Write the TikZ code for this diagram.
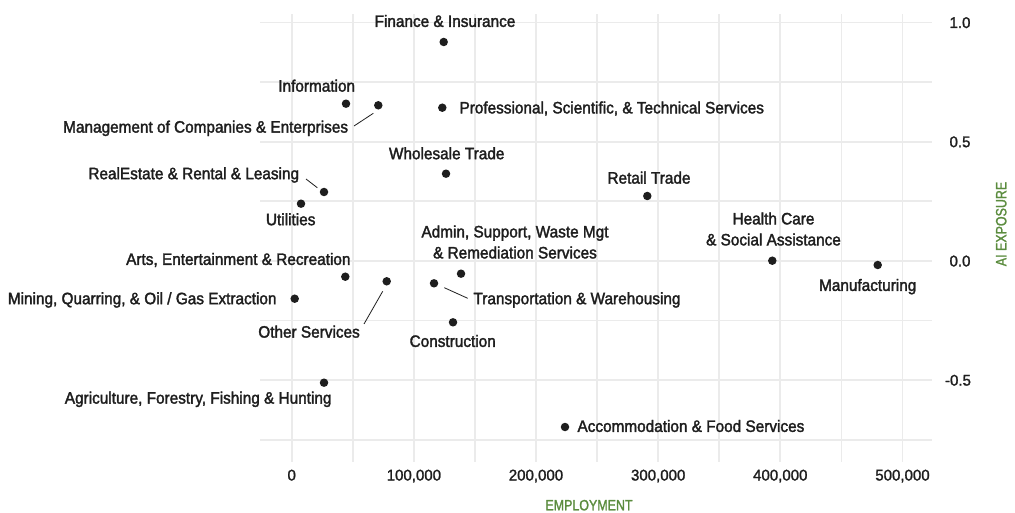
\documentclass[tikz,border=0pt]{standalone}
\usepackage{fontspec}
\setmainfont{Liberation Sans}
\newfontfamily\labfont{Liberation Sans}[FakeStretch=0.93,FakeBold=2]
\newfontfamily\tickfont{Liberation Sans}[FakeStretch=0.97,FakeBold=1.5]
\newfontfamily\titfont{Liberation Sans}[FakeStretch=0.83,FakeBold=1.5]
\definecolor{gridc}{HTML}{EBEBEB}
\definecolor{inkc}{HTML}{1E1E1E}
\definecolor{axgreen}{HTML}{5B8C3E}
\tikzset{
  lab/.style={inner sep=0pt, text=inkc, font=\labfont\fontsize{16.5}{21}\selectfont, text height=11.8pt, text depth=0pt},
  lab2/.style={inner sep=0pt, text=inkc, font=\labfont\fontsize{16.5}{21}\selectfont, align=center},
  dotp/.style={circle, fill=inkc, inner sep=0pt, minimum size=8.5pt},
  gridline/.style={draw=gridc, line width=1.8pt},
  leader/.style={draw=inkc, line width=0.8pt},
  tick/.style={inner sep=0pt, text=inkc, font=\tickfont\fontsize{15.5}{18}\selectfont, text height=11pt, text depth=0pt},
  axtitle/.style={inner sep=0pt, text=axgreen, font=\titfont\fontsize{15}{16}\selectfont, text height=10.7pt, text depth=0pt}
}
\begin{document}
\begin{tikzpicture}[x=1pt,y=-1pt]
\useasboundingbox (0,0) rectangle (1015,513);
% grid
\foreach \gx in {291.7,352.8,413.9,474.9,536.0,597.1,658.2,719.2,780.3,841.4,902.5}
  \draw[gridline] (\gx,14) -- (\gx,461.7);
\foreach \gy in {22.5,82.1,141.7,201.3,260.9,320.5,380.1,439.7}
  \draw[gridline] (260,\gy) -- (931.7,\gy);
% axis ticks
\node[tick] (x0) at (291.7,475) {0};
\node[tick] (x1) at (413.9,475) {100,000};
\node[tick] (x2) at (536.0,475) {200,000};
\node[tick] (x3) at (658.2,475) {300,000};
\node[tick] (x4) at (780.3,475) {400,000};
\node[tick] (x5) at (902.5,475) {500,000};
\node[tick] (y1) at (960,22.5) {1.0};
\node[tick] (y2) at (960,141.7) {0.5};
\node[tick] (y3) at (960,260.9) {0.0};
\node[tick] (y4) at (958,380.1) {-0.5};
\node[axtitle] (xt) at (589,505) {EMPLOYMENT};
\node[axtitle, rotate=90] (yt) at (1001,224) {AI EXPOSURE};
% dots
\node[dotp] (fin) at (443.7,42) {};
\node[dotp] (inf) at (346,103.7) {};
\node[dotp] (man) at (378.3,105.3) {};
\node[dotp] (pro) at (442.3,107.7) {};
\node[dotp] (who) at (446,173.7) {};
\node[dotp] (rea) at (324,192) {};
\node[dotp] (uti) at (301,203.7) {};
\node[dotp] (ret) at (647.3,196) {};
\node[dotp] (hea) at (772.3,260.7) {};
\node[dotp] (adm) at (461,273.7) {};
\node[dotp] (art) at (345.3,276.7) {};
\node[dotp] (oth) at (386.7,281.3) {};
\node[dotp] (min) at (294.7,298.7) {};
\node[dotp] (tra) at (434,283.3) {};
\node[dotp] (con) at (453,322.3) {};
\node[dotp] (agr) at (324,382.7) {};
\node[dotp] (acc) at (565,427) {};
\node[dotp] (mfg) at (877.7,265) {};
% labels
\node[lab] (lfin) at (445,21) {Finance \& Insurance};
\node[lab] (linf) at (316.7,85.7) {Information};
\node[lab, anchor=east] (lman) at (348.3,126.7) {Management of Companies \& Enterprises};
\node[lab, anchor=west] (lpro) at (459.3,107.5) {Professional, Scientific, \& Technical Services};
\node[lab] (lwho) at (446.7,153.3) {Wholesale Trade};
\node[lab, anchor=east] (lrea) at (299.3,173.3) {RealEstate \& Rental \& Leasing};
\node[lab] (luti) at (290.7,219.3) {Utilities};
\node[lab] (lret) at (649,177.7) {Retail Trade};
\node[lab2] (lhea) at (773.5,229) {Health Care\\\& Social Assistance};
\node[lab2] (ladm) at (515,242) {Admin, Support, Waste Mgt\\\& Remediation Services};
\node[lab, anchor=east] (lart) at (350.7,259) {Arts, Entertainment \& Recreation};
\node[lab, anchor=east] (lmin) at (276.7,298.3) {Mining, Quarring, \& Oil / Gas Extraction};
\node[lab, anchor=west] (ltra) at (473.3,298.3) {Transportation \& Warehousing};
\node[lab, anchor=east] (loth) at (360,331.7) {Other Services};
\node[lab] (lcon) at (452.7,341) {Construction};
\node[lab, anchor=east] (lagr) at (331.7,397.7) {Agriculture, Forestry, Fishing \& Hunting};
\node[lab, anchor=west] (lacc) at (577.3,426) {Accommodation \& Food Services};
\node[lab] (lmfg) at (867.7,285) {Manufacturing};
% leader lines
\coordinate (m1) at (354,126);
\coordinate (m2) at (373.3,113.3);
\coordinate (r1) at (306,179);
\coordinate (r2) at (317.3,187.7);
\coordinate (o1) at (364,324);
\coordinate (o2) at (382.7,291.3);
\coordinate (t1) at (444.3,287.7);
\coordinate (t2) at (467.7,298.3);
\draw[leader] (m1) -- (m2);
\draw[leader] (r1) -- (r2);
\draw[leader] (o1) -- (o2);
\draw[leader] (t1) -- (t2);
\end{tikzpicture}
\end{document}
